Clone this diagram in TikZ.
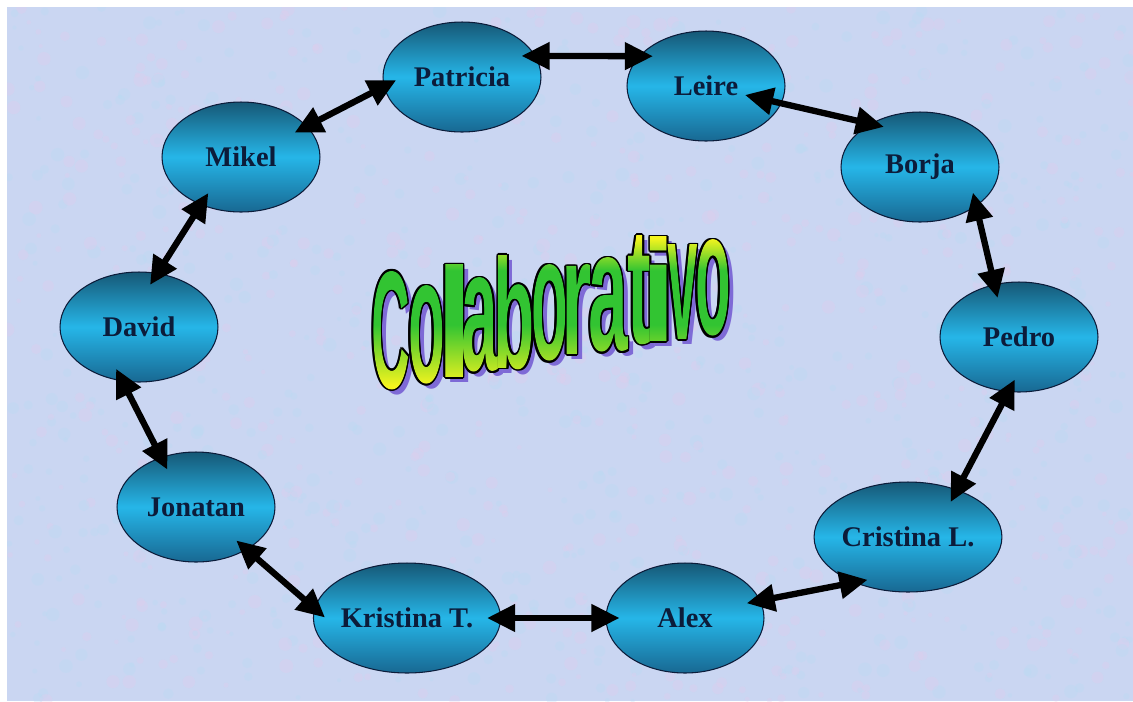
\documentclass[tikz,border=0pt]{standalone}
\usepackage{fontspec}
\usepackage{graphicx}
\setmainfont{Liberation Serif}
\newfontfamily\titlefont{Liberation Sans Bold}
\usepackage{tikz}
\usetikzlibrary{arrows.meta,shapes.geometric,fadings}

\definecolor{paper}{RGB}{202,214,242}
\definecolor{paperpink}{RGB}{226,204,236}
\definecolor{paperblue}{RGB}{184,220,244}
\definecolor{bubbletop}{RGB}{22,88,118}
\definecolor{bubblemid}{RGB}{38,182,232}
\definecolor{bubblebot}{RGB}{24,104,146}
\definecolor{namecol}{RGB}{12,28,58}
\definecolor{wordgreen}{RGB}{50,196,50}
\definecolor{wordyellow}{RGB}{244,244,30}
\definecolor{wordshadow}{RGB}{126,106,214}

\pgfdeclareverticalshading{wordgrad}{100bp}{color(0bp)=(wordyellow);
  color(27bp)=(wordyellow); color(46bp)=(wordgreen); color(63bp)=(wordgreen);
  color(73bp)=(wordyellow); color(100bp)=(wordyellow)}

% one glyph, side bearings cut away
\newcommand\inkletter[1]{\hbox{\titlefont\kern-\XeTeXglyphbounds1 \XeTeXcharglyph`#1 #1\kern-\XeTeXglyphbounds3 \XeTeXcharglyph`#1 }}
% the word, letter by letter: colour, shift x, shift y (pixels)
\newcommand\wordletters[3]{%
  \foreach \ch/\xl/\xr/\yt/\yb in {C/373/408/273/390, o/410/442/288/385,
      l/445/463/265/378, a/463/498/280/373, b/498/532/257/370,
      o/533/565/267/362, r/566/590/265/355, a/590/628/260/353,
      t/628/650/237/345, i/650/667/237/342, v/667/697/245/340,
      o/697/728/242/337}{
    \pgfmathsetmacro\lw{(\xr-\xl)*0.02}
    \pgfmathsetmacro\lh{(\yb-\yt)*0.02}
    \node[anchor=south west, inner sep=0, text=#1] at (\xl+#2,\yb+#3)
      {\resizebox{\lw cm}{\lh cm}{\expandafter\inkletter\expandafter{\ch}}};}}

\begin{tikzfadingfrompicture}[name=wordmask, x=0.02cm, y=-0.02cm]
  \useasboundingbox (360,230) rectangle (740,395);
  \wordletters{transparent!0}{0}{0}
\end{tikzfadingfrompicture}

\begin{document}
\begin{tikzpicture}[x=0.02cm, y=-0.02cm,
    bubble/.style={ellipse, draw=namecol, line width=0.6pt,
      minimum width=3.16cm, minimum height=2.2cm, inner sep=0pt,
      top color=bubbletop, bottom color=bubblebot, middle color=bubblemid,
      text=namecol, font=\bfseries\fontsize{16.2}{18}\selectfont},
    link/.style={<->, >={Triangle[length=16pt, width=15pt]},
      line width=3.6pt, shorten <=-8pt, shorten >=-8pt}]
  \useasboundingbox (0,0) rectangle (1133,701);
  \fill[white] (0,0) rectangle (1133,701);
  \fill[paper] (7,7) rectangle (1133,701);
  \begin{scope}
    \clip (7,7) rectangle (1133,701);
    \pgfmathsetseed{17}
    \foreach \i in {1,...,1400}{
      \pgfmathsetmacro\tx{7+rnd*1126}
      \pgfmathsetmacro\ty{7+rnd*694}
      \pgfmathsetmacro\tr{2+rnd*5}
      \ifodd\i \def\tc{paperpink}\else \def\tc{paperblue}\fi
      \fill[\tc, opacity=0.3] (\tx,\ty) circle (\tr);}
  \end{scope}

  % title
  \wordletters{wordshadow}{5}{5}
  \foreach \dx/\dy in {-1.6/0, 1.6/0, 0/-1.6, 0/1.6,
                       -1.1/-1.1, 1.1/-1.1, -1.1/1.1, 1.1/1.1}{
    \wordletters{black}{\dx}{\dy}}
  \shade[path fading=wordmask, fit fading=false,
         fading transform={shift={(550,312.5)}}, shading=wordgrad]
    (360,232) rectangle (740,392);

  % people
  \node[bubble] (pat) at (462,77)  {Patricia};
  \node[bubble] (lei) at (706,86)  {Leire};
  \node[bubble] (bor) at (920,167) {Borja};
  \node[bubble] (ped) at (1019,337) {Pedro};
  \node[bubble] (cri) at (908,537) {Cristina L.};
  \node[bubble] (ale) at (685,618) {Alex};
  \node[bubble] (kri) at (407,618) {Kristina T.};
  \node[bubble] (jon) at (196,507) {Jonatan};
  \node[bubble] (dav) at (139,327) {David};
  \node[bubble] (mik) at (241,157) {Mikel};

  \draw[link] (pat.16) -- (lei.156);
  \draw[link, shorten <=0.8cm] (lei.center) -- (bor.139);
  \draw[link] (bor.-35) -- (ped.115);
  \draw[link] (ped.-101) -- (cri.44);
  \draw[link] (cri.220) -- (ale.13);
  \draw[link] (ale.180) -- (kri.0);
  \draw[link] (kri.174) -- (jon.-40);
  \draw[link] (jon.125) -- (dav.-107);
  \draw[link] (dav.71) -- (mik.-130);
  \draw[link] (mik.25) -- (pat.187);
\end{tikzpicture}
\end{document}
